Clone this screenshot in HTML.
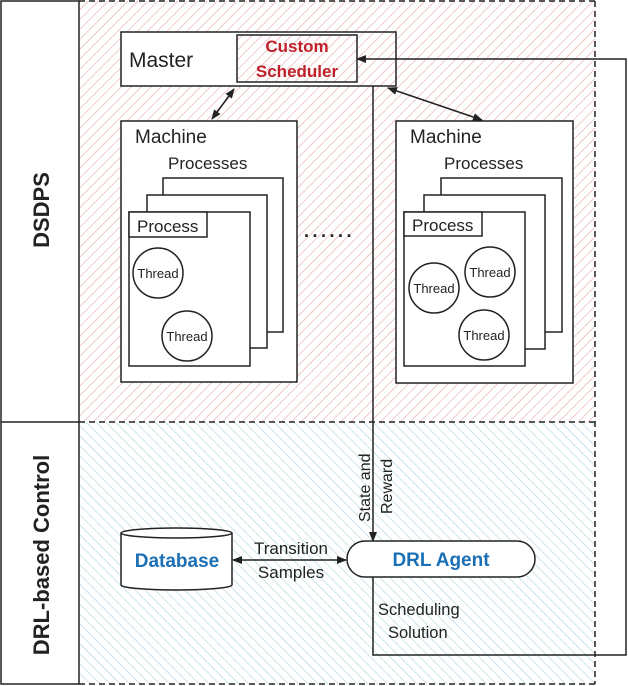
<!DOCTYPE html>
<html><head><meta charset="utf-8"><style>
html,body{margin:0;padding:0;background:#fff;}
svg{display:block;font-family:"Liberation Sans",sans-serif;}
</style></head><body>
<svg width="628" height="686" viewBox="0 0 628 686" xmlns="http://www.w3.org/2000/svg">
<defs>
<pattern id="pk" width="7" height="7" patternUnits="userSpaceOnUse" patternTransform="rotate(45)">
<rect width="7" height="7" fill="#fff"/><line x1="0" y1="0" x2="0" y2="7" stroke="#e2a09c" stroke-width="1.1"/>
</pattern>
<pattern id="bl" width="7" height="7" patternUnits="userSpaceOnUse" patternTransform="rotate(-45)">
<rect width="7" height="7" fill="#fff"/><line x1="0" y1="0" x2="0" y2="7" stroke="#a4cfdc" stroke-width="1.1"/>
</pattern>
<marker id="ah" markerWidth="10" markerHeight="8" refX="9" refY="4" orient="auto" markerUnits="userSpaceOnUse">
<path d="M0,0 L10,4 L0,8 z" fill="#222"/></marker>
<marker id="as" markerWidth="10" markerHeight="8" refX="1" refY="4" orient="auto" markerUnits="userSpaceOnUse">
<path d="M10,0 L0,4 L10,8 z" fill="#222"/></marker>
</defs>
<rect x="79" y="1" width="516" height="421" fill="url(#pk)"/>
<rect x="79" y="422" width="516" height="262" fill="url(#bl)"/>
<g stroke="#222" stroke-width="1.5" fill="none" stroke-dasharray="6,4">
<line x1="79" y1="1" x2="595" y2="1"/>
<line x1="79" y1="422" x2="595" y2="422"/>
<line x1="79" y1="684" x2="595" y2="684"/>
<line x1="595" y1="1" x2="595" y2="684"/>
</g>
<rect x="1" y="1" width="78" height="683" fill="#fff" stroke="#222" stroke-width="1.5"/>
<line x1="1" y1="422" x2="79" y2="422" stroke="#222" stroke-width="1.5"/>
<text x="0" y="0" transform="translate(49,210) rotate(-90)" text-anchor="middle" font-size="22" font-weight="bold" fill="#222">DSDPS</text>
<text x="0" y="0" transform="translate(49,555) rotate(-90)" text-anchor="middle" font-size="22" font-weight="bold" fill="#222">DRL-based Control</text>

<g stroke="#222" stroke-width="1.5">
<rect x="121" y="32" width="275" height="54" fill="#fff"/>
<rect x="358" y="33" width="37" height="52" fill="url(#pk)" stroke="none"/>
<rect x="237" y="35" width="120" height="47" fill="url(#pk)"/>
</g>
<text x="129" y="67" font-size="21" fill="#222">Master</text>
<text x="297" y="52" font-size="17" font-weight="bold" fill="#c0202a" text-anchor="middle">Custom</text>
<text x="297" y="77" font-size="17" font-weight="bold" fill="#c0202a" text-anchor="middle">Scheduler</text>

<!-- left machine -->
<g stroke="#222" stroke-width="1.5" fill="#fff">
<rect x="121" y="121" width="176" height="261"/>
<rect x="163" y="178" width="120" height="154"/>
<rect x="147" y="195" width="120" height="153"/>
<rect x="129" y="212" width="121" height="154"/>
<rect x="129" y="212" width="78" height="25"/>
<circle cx="158" cy="273" r="25"/>
<circle cx="187" cy="336" r="25"/>
</g>
<text x="135" y="143" font-size="19" fill="#222">Machine</text>
<text x="168" y="169" font-size="17" fill="#222">Processes</text>
<text x="137" y="232" font-size="17" fill="#222">Process</text>
<text x="158" y="278" font-size="13" fill="#222" text-anchor="middle">Thread</text>
<text x="187" y="341" font-size="13" fill="#222" text-anchor="middle">Thread</text>

<!-- right machine -->
<g stroke="#222" stroke-width="1.5" fill="#fff">
<rect x="396" y="121" width="177" height="262"/>
<rect x="441" y="178" width="121" height="154"/>
<rect x="424" y="195" width="121" height="154"/>
<rect x="404" y="212" width="121" height="154"/>
<rect x="404" y="212" width="78" height="24"/>
<circle cx="434" cy="288" r="25"/>
<circle cx="490" cy="272" r="25"/>
<circle cx="484" cy="335" r="25"/>
</g>
<text x="410" y="143" font-size="19" fill="#222">Machine</text>
<text x="444" y="169" font-size="17" fill="#222">Processes</text>
<text x="412" y="231" font-size="17" fill="#222">Process</text>
<text x="434" y="293" font-size="13" fill="#222" text-anchor="middle">Thread</text>
<text x="490" y="277" font-size="13" fill="#222" text-anchor="middle">Thread</text>
<text x="484" y="340" font-size="13" fill="#222" text-anchor="middle">Thread</text>

<text x="304" y="237" font-size="18" font-weight="bold" fill="#222" letter-spacing="3.5">......</text>

<!-- arrows -->
<g stroke="#222" stroke-width="1.5" fill="none">
<line x1="234" y1="89" x2="212" y2="119" marker-start="url(#as)" marker-end="url(#ah)"/>
<line x1="388" y1="88" x2="482" y2="120" marker-start="url(#as)" marker-end="url(#ah)"/>
<line x1="373" y1="86" x2="373" y2="541" marker-end="url(#ah)"/>
<polyline points="373,577 373,655 626,655 626,59 357,59" marker-end="url(#ah)"/>
<line x1="233" y1="560" x2="346" y2="560" marker-start="url(#as)" marker-end="url(#ah)"/>
</g>

<!-- DRL agent -->
<rect x="347" y="541" width="188" height="36" rx="18" fill="#fff" stroke="#222" stroke-width="1.5"/>
<text x="441" y="566" font-size="19" font-weight="bold" fill="#1a6fb5" text-anchor="middle">DRL Agent</text>

<!-- database -->
<path d="M121,533 L121,585 A55.5,5 0 0 0 232,585 L232,533" fill="#fff" stroke="#222" stroke-width="1.5"/>
<ellipse cx="176.5" cy="533" rx="55.5" ry="5" fill="#fff" stroke="#222" stroke-width="1.5"/>
<text x="177" y="567" font-size="19" font-weight="bold" fill="#1a6fb5" text-anchor="middle">Database</text>

<text x="291" y="554" font-size="17" fill="#222" text-anchor="middle">Transition</text>
<text x="291" y="578" font-size="17" fill="#222" text-anchor="middle">Samples</text>
<text transform="translate(370,522) rotate(-90)" font-size="16" fill="#222">State and</text>
<text transform="translate(392,514) rotate(-90)" font-size="16" fill="#222">Reward</text>
<text x="378" y="615" font-size="16.5" fill="#222">Scheduling</text>
<text x="388" y="638" font-size="16.5" fill="#222">Solution</text>
</svg>
</body></html>
